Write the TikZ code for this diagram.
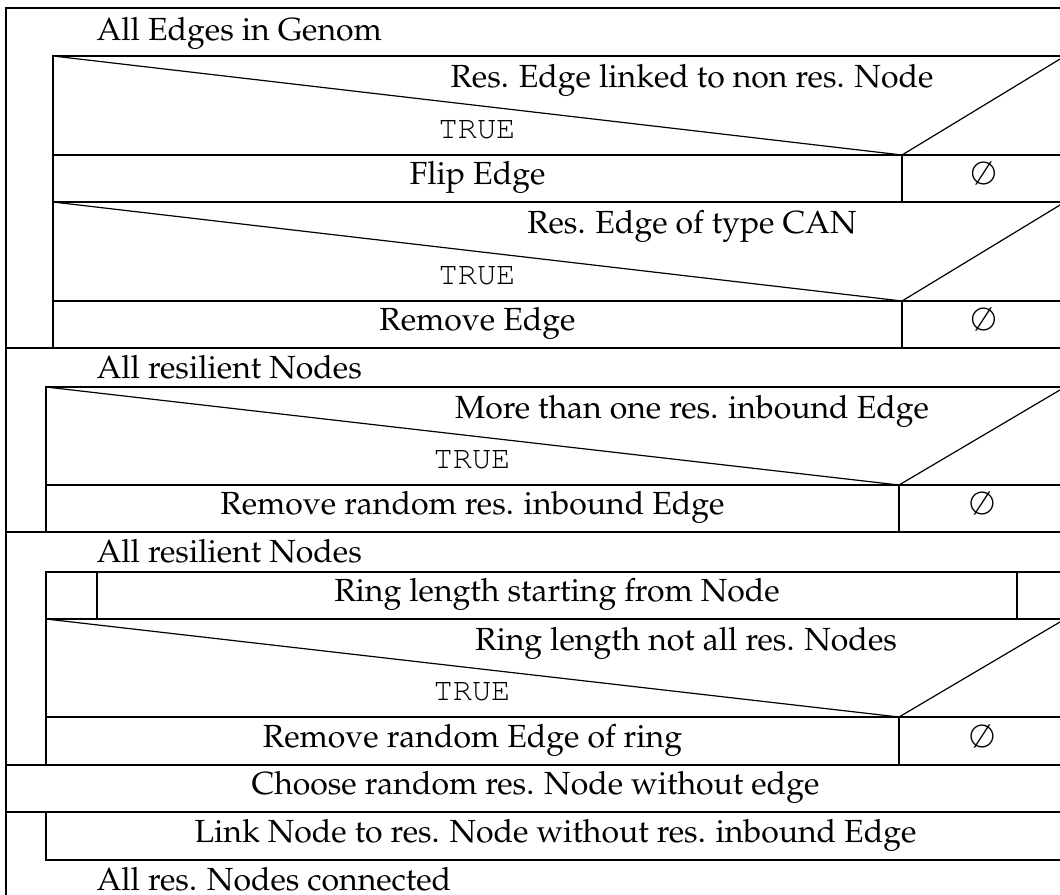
\documentclass[tikz,border=0pt]{standalone}
\usepackage[T1]{fontenc}
\usepackage{mathpazo}
\usepackage{courier}
\begin{document}
\begin{tikzpicture}[x=0.375pt,y=-0.375pt,
  ln/.style={line width=0.45pt, line cap=rect},
  txt/.style={inner sep=0pt, font=\fontsize{12}{14}\selectfont},
  rowtxt/.style={txt, anchor=center, text height=0.7em, text depth=0.25em},
  cond/.style={txt, anchor=base},
  head/.style={txt, anchor=base west, text depth=0pt},
  yes/.style={inner sep=0pt, anchor=base, font=\fontsize{12}{14}\ttfamily}]
\useasboundingbox (0,0) rectangle (1060,894);
\clip (0,0) rectangle (1060,894);
\fill[white] (0,0) rectangle (1060,894);

% outer block frame (repeat-until at the bottom runs off the page)
\draw[ln] (6,920) -- (6,8) -- (1065,8) -- (1065,920);

% ---- loop 1: all edges ----
\node[head] (l1) at (96,40.5) {All Edges in Genom};
\draw[ln] (53,348) -- (53,56) -- (1065,56);
% decision 1
\draw[ln] (53,56) -- (902,155) -- (1065,56);
\draw[ln] (53,155) -- (1065,155);
\node[cond] (c1) at (692,87) {Res. Edge linked to non res. Node};
\node[yes] (t1) at (477,138) {TRUE};
\node[rowtxt] (a1) at (477.5,178.5) {Flip Edge};
\draw[ln] (902,155) -- (902,202);
\node[rowtxt] (e1) at (983.5,178.5) {$\emptyset$};
\draw[ln] (53,202) -- (1065,202);
% decision 2
\draw[ln] (53,202) -- (902,301) -- (1065,202);
\draw[ln] (53,301) -- (1065,301);
\node[cond] (c2) at (692,233) {Res. Edge of type CAN};
\node[yes] (t2) at (477,284) {TRUE};
\node[rowtxt] (a2) at (477.5,324.5) {Remove Edge};
\draw[ln] (902,301) -- (902,348);
\node[rowtxt] (e2) at (983.5,324.5) {$\emptyset$};
\draw[ln] (6,348) -- (1065,348);

% ---- loop 2: resilient nodes ----
\node[head] (l2) at (96,378) {All resilient Nodes};
\draw[ln] (46,532) -- (46,387) -- (1065,387);
% decision 3
\draw[ln] (46,387) -- (899,485) -- (1065,387);
\draw[ln] (46,485) -- (1065,485);
\node[cond] (c3) at (692,418) {More than one res. inbound Edge};
\node[yes] (t3) at (472,468) {TRUE};
\node[rowtxt] (a3) at (472.5,508.5) {Remove random res. inbound Edge};
\draw[ln] (899,485) -- (899,532);
\node[rowtxt] (e3) at (982,508.5) {$\emptyset$};
\draw[ln] (6,532) -- (1065,532);

% ---- loop 3: resilient nodes, ring check ----
\node[head] (l3) at (96,562) {All resilient Nodes};
\draw[ln] (46,765) -- (46,572) -- (1065,572);
\draw[ln] (97,572) -- (97,619);
\draw[ln] (1017,572) -- (1017,619);
\node[rowtxt] (r1) at (557,595.5) {Ring length starting from Node};
\draw[ln] (46,619) -- (1065,619);
% decision 4
\draw[ln] (46,619) -- (899,717) -- (1065,619);
\draw[ln] (46,717) -- (1065,717);
\node[cond] (c4) at (686,650) {Ring length not all res. Nodes};
\node[yes] (t4) at (472,700) {TRUE};
\node[rowtxt] (a4) at (472.5,741) {Remove random Edge of ring};
\draw[ln] (899,717) -- (899,765);
\node[rowtxt] (e4) at (982,741) {$\emptyset$};
\draw[ln] (6,765) -- (1065,765);

% ---- choose and link until all connected ----
\node[rowtxt] (ch) at (535.5,788.5) {Choose random res. Node without edge};
\draw[ln] (6,812) -- (1065,812);
\draw[ln] (46,812) -- (46,860) -- (1065,860);
\node[rowtxt] (lk) at (555.5,836) {Link Node to res. Node without res. inbound Edge};
\node[head] (l4) at (96,890) {All res. Nodes connected};
\end{tikzpicture}
\end{document}
